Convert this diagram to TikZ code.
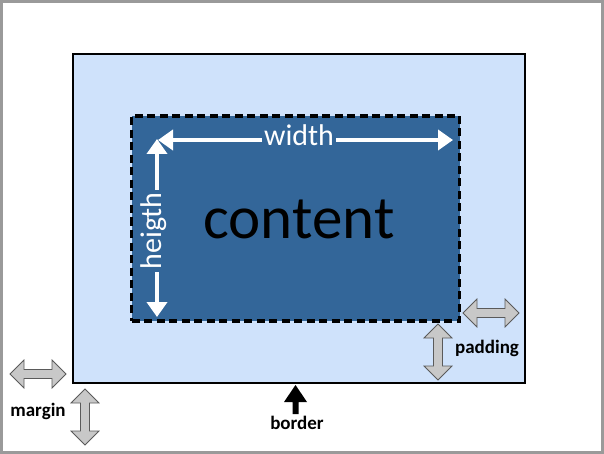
\documentclass[tikz,border=0pt]{standalone}
\usepackage{fontspec}
\setmainfont{Carlito}
\usetikzlibrary{arrows.meta}
\definecolor{paddingblue}{HTML}{CFE2FB}
\definecolor{contentblue}{HTML}{336699}
\definecolor{framegray}{HTML}{9A9A9A}
\definecolor{arrowgray}{HTML}{C8C8C8}
\definecolor{arrowedge}{HTML}{5A5A5A}
\tikzset{
  grayshape/.style={draw=arrowedge, fill=arrowgray, line width=0.8pt, line join=miter},
  dblarrow/.pic={
    \draw[grayshape] (-28,0) -- (-14,-14) -- (-14,-4.5) -- (14,-4.5) -- (14,-14) -- (28,0)
      -- (14,14) -- (14,4.5) -- (-14,4.5) -- (-14,14) -- cycle;
  },
  smalllabel/.style={font=\bfseries\fontsize{19}{19}\selectfont, text=black},
  whitearrow/.style={draw=white, line width=4.5pt, {Triangle[width=20pt,length=15pt]}-{Triangle[width=20pt,length=15pt]}},
  dimlabel/.style={font=\fontsize{30}{30}\selectfont, text=white, fill=contentblue, inner sep=2pt},
}
\begin{document}
\begin{tikzpicture}[x=1pt,y=-1pt]
\useasboundingbox (0,0) rectangle (604,454);
\fill[white] (0,0) rectangle (604,454);
\draw[framegray, line width=3pt] (1.5,1.5) rectangle (602.5,452.5);
% padding box with border
\node[draw=black, fill=paddingblue, line width=2pt, minimum width=452pt, minimum height=329pt, inner sep=0pt] (pad) at (299,218.5) {};
% content box
\node[draw=black, fill=contentblue, line width=3.2pt, dash pattern=on 8pt off 4.5pt, minimum width=328pt, minimum height=205pt, inner sep=0pt] (cont) at (295.5,218.5) {};
\node[font=\fontsize{61}{61}\selectfont, text=black] (ctext) at (299,219) {content};
% width and height arrows
\coordinate (wl) at (158,140);
\coordinate (wr) at (453,140);
\coordinate (ht) at (157,139);
\coordinate (hb) at (157,317);
\draw[whitearrow] (wl) -- (wr);
\draw[whitearrow] (ht) -- (hb);
\node[dimlabel] (wtext) at (299,135) {width};
\node[dimlabel, rotate=90] (htext) at (154,231) {heigth};
% margin arrows
\pic (mh) at (38,374) {dblarrow};
\pic[rotate=90] (mv) at (85,417) {dblarrow};
\node[smalllabel] (mtext) at (38,411) {margin};
% padding arrows
\pic (ph) at (491,313) {dblarrow};
\pic[rotate=90] (pv) at (438,352) {dblarrow};
\node[smalllabel] (ptext) at (487,348) {padding};
% border arrow
\fill[black] (295.5,385) -- (307,402) -- (298.5,402) -- (298.5,414) -- (292.5,414) -- (292.5,402) -- (284,402) -- cycle;
\node[smalllabel] (btext) at (297,423) {border};
\end{tikzpicture}
\end{document}
